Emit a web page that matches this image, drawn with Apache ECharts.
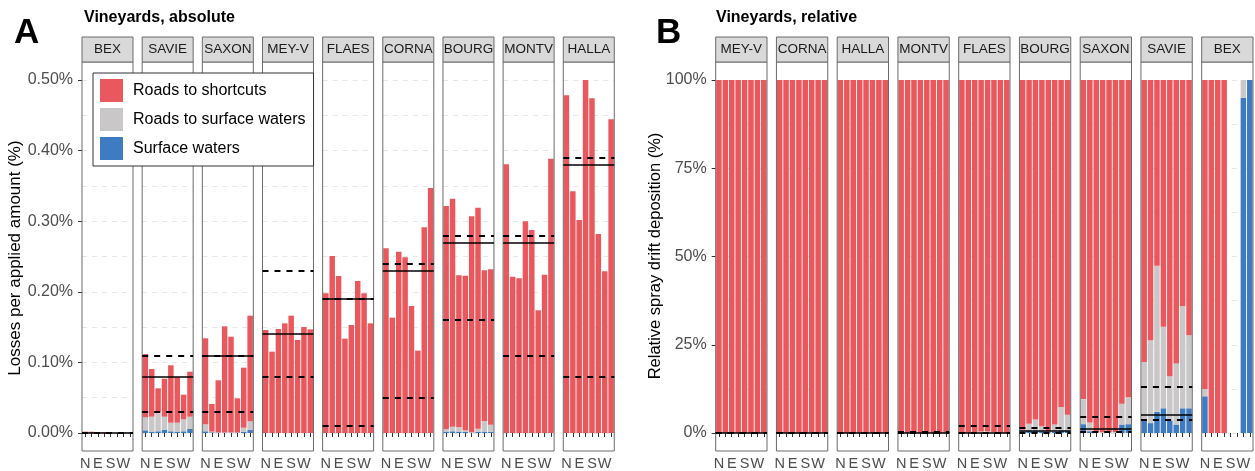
<!DOCTYPE html>
<html><head><meta charset="utf-8">
<script src="https://cdn.jsdelivr.net/npm/echarts@6/dist/echarts.min.js"></script>
<style>html,body{margin:0;padding:0;background:#fff}#c{width:1255px;height:471px}</style>
</head><body><div id="c"></div>
<script>
// ---------- DATA ----------
const directions = ['N','NE','E','SE','S','SW','W','NW'];
const dirLabels  = ['N','','E','','S','','W',''];
const seriesNames = ['Roads to shortcuts','Roads to surface waters','Surface waters'];

// Panel A: absolute losses (% of applied amount), stacked blue (bottom), grey, red (top)
const facetsA = ['BEX','SAVIE','SAXON','MEY-V','FLAES','CORNA','BOURG','MONTV','HALLA'];
const redA = [
  [0.0016,0.0018,0.0013,0.0011,0,0,0,0],
  [0.0897,0.0675,0.0331,0.0538,0.0813,0.0643,0.0349,0.0637],
  [0.1218,0.0391,0.0738,0.1503,0.1356,0.0484,0.0850,0.1497],
  [0.1459,0.1152,0.1473,0.1553,0.1662,0.1317,0.1501,0.1468],
  [0.1978,0.2507,0.2224,0.1336,0.1530,0.2153,0.1978,0.1553],
  [0.2616,0.1634,0.2568,0.2488,0.1799,0.1166,0.2913,0.3470],
  [0.3163,0.3229,0.2153,0.2188,0.3059,0.3131,0.2134,0.2200],
  [0.3806,0.2214,0.2191,0.2999,0.2875,0.1738,0.2242,0.3885],
  [0.4783,0.3423,0.3017,0.5000,0.4741,0.2819,0.2290,0.4443]
];
const greyA = [
  [0.0001,0,0,0,0,0,0.00003,0],
  [0.0184,0.0212,0.0278,0.0184,0.0122,0.0132,0.0170,0.0174],
  [0.0099,0.0010,0.0003,0.0003,0.0003,0.0002,0.0056,0.0123],
  [0,0,0,0,0,0,0,0],
  [0,0,0,0,0,0,0,0],
  [0,0,0,0,0,0,0,0],
  [0.0032,0.0066,0.0060,0.0025,0.0005,0.0045,0.0150,0.0103],
  [0,0,0,0,0,0,0,0],
  [0,0,0,0,0,0,0,0]
];
const blueA = [
  [0.0002,0,0,0,0,0,0.0005,0.0005],
  [0.0038,0.0019,0.0024,0.0047,0.0024,0.0014,0.0024,0.0057],
  [0.0024,0.0010,0.0005,0.0005,0.0005,0.0005,0.0019,0.0042],
  [0,0,0,0,0,0,0,0],
  [0,0,0,0,0,0,0,0],
  [0,0,0,0,0,0,0,0],
  [0.0020,0.0024,0.0020,0.0015,0.0005,0.0015,0.0020,0.0015],
  [0,0,0,0,0,0,0,0],
  [0,0,0,0,0,0,0,0]
];
const solidA  = [0.0004,0.0831,0.1058,0.1449,0.1912,0.2337,0.2738,0.2744,0.3815];
const dashHiA = [0.0021,0.1058,0.1114,0.2285,0.1931,0.2351,0.2833,0.2772,0.3881];
const dashLoA = [0.0001,0.0344,0.0288,0.0817,0.0090,0.0453,0.1624,0.1133,0.0822];
const ticksA = [0,0.1,0.2,0.3,0.4,0.5];

// Panel B: relative deposition (%)
const facetsB = ['MEY-V','CORNA','HALLA','MONTV','FLAES','BOURG','SAXON','SAVIE','BEX'];
const redB = [
  [100,100,100,100,100,100,100,100],
  [100,100,100,100,100,100,100,100],
  [100,100,100,100,100,100,100,100],
  [100,100,100,100,100,100,100,100],
  [100,100,99.8,99.6,99.6,99.7,100,100],
  [99.1,97.4,96.2,98.1,99.5,97.6,92.6,94.8],
  [90.4,97.0,99.8,99.8,99.7,99.7,91.7,89.9],
  [79.9,73.7,52.6,69.9,83.9,80.3,64.0,72.3],
  [87.5,100,100,100,0,0,0,0]
];
const greyB = [
  [0,0,0,0,0,0,0,0],
  [0,0,0,0,0,0,0,0],
  [0,0,0,0,0,0,0,0],
  [0,0,0,0,0,0,0,0],
  [0,0,0.2,0.4,0.4,0.3,0,0],
  [0.4,1.9,3.1,1.4,0.3,2.1,6.7,4.5],
  [7.1,2.5,0.2,0.2,0.3,0.3,5.9,7.6],
  [16.6,23.5,41.4,23.1,12.5,17.3,29.0,20.7],
  [2.1,0,0,0,0,0,5.0,0]
];
const blueB = [
  [0,0,0,0,0,0,0,0],
  [0,0,0,0,0,0,0,0],
  [0,0,0,0,0,0,0,0],
  [0,0,0,0,0,0,0,0],
  [0,0,0,0,0,0,0,0],
  [0.5,0.7,0.7,0.5,0.2,0.3,0.7,0.7],
  [2.5,0.5,0,0,0,0,2.4,2.5],
  [3.5,2.8,6.0,7.0,3.6,2.4,7.0,7.0],
  [10.4,0,0,0,0,0,95.0,100]
];
const solidB  = [0,0,0.05,0.1,0,0.7,1.1,5.1,null];
const dashHiB = [0.05,0.05,0.15,0.45,2.1,1.6,4.7,13.1,null];
const dashLoB = [0,0,0,0,0,0.2,0.3,3.7,null];
const ticksB = [0,25,50,75,100];

// ---------- STYLE / LAYOUT ----------
const FONT = '"Liberation Sans", Arial, Helvetica, sans-serif';
const COL = {red:'#E8585C', grey:'#C9C7C7', blue:'#3F7BC1'};
const PANEL_TOP = 62, PANEL_BOTTOM = 451, STRIP_TOP = 37;
const DATA_TOP = 80, DATA_BOTTOM = 433;
const BORDER = '#6b6b6b';
const GRIDLINE = {color:'#E6E6E6', type:[5,5], width:1};

const grids=[], xAxes=[], yAxes=[], series=[], graphics=[];

function addPanel(facets, red, grey, blue, solid, dashHi, dashLo, ticks, fmt, x0, step, w){
  facets.forEach((name, i) => {
    const g = grids.length;
    const left = x0 + i*step;
    grids.push({left:left, top:DATA_TOP, width:w, height:DATA_BOTTOM-DATA_TOP});
    xAxes.push({
      type:'category', gridIndex:g, data:directions, offset:PANEL_BOTTOM-DATA_BOTTOM,
      axisLine:{show:false},
      axisTick:{show:true, interval:0, alignWithLabel:true, length:4, lineStyle:{color:'#333'}},
      axisLabel:{interval:0, formatter:(v,idx)=>dirLabels[idx], fontSize:14.5, color:'#4D4D4D', margin:5, fontFamily:FONT},
      splitLine:{show:false}
    });
    const step_ = ticks[1]-ticks[0];
    yAxes.push({
      type:'value', gridIndex:g, min:ticks[0], max:ticks[ticks.length-1], interval:step_,
      axisLine:{show:false},
      axisTick:{show:i===0, length:4, lineStyle:{color:'#333'}},
      axisLabel:{show:i===0, formatter:fmt, fontSize:16, color:'#4D4D4D', margin:9, fontFamily:FONT},
      splitLine:{show:true, lineStyle:GRIDLINE},
      minorTick:{show:false, splitNumber:2},
      minorSplitLine:{show:true, lineStyle:GRIDLINE}
    });
    const parts = [[blue, seriesNames[2], COL.blue],[grey, seriesNames[1], COL.grey],[red, seriesNames[0], COL.red]];
    parts.forEach((p, k) => {
      const s = {
        type:'bar', name:p[1], xAxisIndex:g, yAxisIndex:g, stack:'s'+g,
        data:p[0][i], barWidth:'86%', itemStyle:{color:p[2]}, silent:true
      };
      if (k === 2) {
        const ml = [];
        if (solid[i] !== null) ml.push({yAxis:solid[i], lineStyle:{color:'#000', type:'solid', width:1.5}});
        if (dashHi[i] !== null) ml.push({yAxis:dashHi[i], lineStyle:{color:'#000', type:[6,6], width:2}});
        if (dashLo[i] !== null) ml.push({yAxis:dashLo[i], lineStyle:{color:'#000', type:[6,6], width:2}});
        s.markLine = {silent:true, symbol:['none','none'], label:{show:false}, data:ml, animation:false};
      }
      series.push(s);
    });
    // panel border
    graphics.push({type:'rect', z:3, silent:true,
      shape:{x:left, y:PANEL_TOP, width:w, height:PANEL_BOTTOM-PANEL_TOP},
      style:{fill:'none', stroke:BORDER, lineWidth:1}});
    // strip
    graphics.push({type:'rect', z:3, silent:true,
      shape:{x:left, y:STRIP_TOP, width:w, height:PANEL_TOP-STRIP_TOP},
      style:{fill:'#D9D9D9', stroke:BORDER, lineWidth:1}});
    graphics.push({type:'text', z:4, silent:true, x:left+w/2, y:(STRIP_TOP+PANEL_TOP)/2,
      style:{text:name, fill:'#1A1A1A', fontSize:13.5, fontFamily:FONT,
             align:'center', verticalAlign:'middle', textAlign:'center', textVerticalAlign:'middle'}});
  });
}

addPanel(facetsA, redA, greyA, blueA, solidA, dashHiA, dashLoA, ticksA, v => v.toFixed(2)+'%', 82, 60.16, 51);
addPanel(facetsB, redB, greyB, blueB, solidB, dashHiB, dashLoB, ticksB, v => Math.round(v)+'%', 715.7, 60.75, 51.3);

function txt(t, x, y, size, bold, extra){
  return Object.assign({type:'text', silent:true, z:4, x:x, y:y,
    style:{text:t, fill:'#000', fontSize:size, fontWeight:bold?'bold':'normal', fontFamily:FONT,
           align:'left', verticalAlign:'middle', textAlign:'left', textVerticalAlign:'middle'}}, extra||{});
}
graphics.push(txt('A', 14, 33, 35, true));
graphics.push(txt('Vineyards, absolute', 84, 18, 16, true));
graphics.push(txt('B', 656, 33, 35, true));
graphics.push(txt('Vineyards, relative', 716, 18, 16, true));
const yt1 = txt('Losses per applied amount (%)', 15, 258, 17, false, {rotation:Math.PI/2});
yt1.style.align='center'; yt1.style.textAlign='center';
const yt2 = txt('Relative spray drift deposition (%)', 655, 256, 16.5, false, {rotation:Math.PI/2});
yt2.style.align='center'; yt2.style.textAlign='center';
graphics.push(yt1, yt2);

const option = {
  animation:false,
  backgroundColor:'#fff',
  textStyle:{fontFamily:FONT},
  grid:grids, xAxis:xAxes, yAxis:yAxes, series:series,
  legend:{
    data:seriesNames, orient:'vertical', left:93, top:73,
    itemWidth:23, itemHeight:23, itemGap:6, icon:'rect',
    backgroundColor:'#fff', borderColor:'#333', borderWidth:1, borderRadius:0,
    padding:[6,8,6,7], selectedMode:false, z:10,
    textStyle:{fontSize:16, color:'#000', fontFamily:FONT, padding:[0,0,0,5]}
  },
  graphic:{elements:graphics}
};
const chart = echarts.init(document.getElementById('c'), null, {renderer:'canvas'});
chart.setOption(option);
</script>
</body></html>
